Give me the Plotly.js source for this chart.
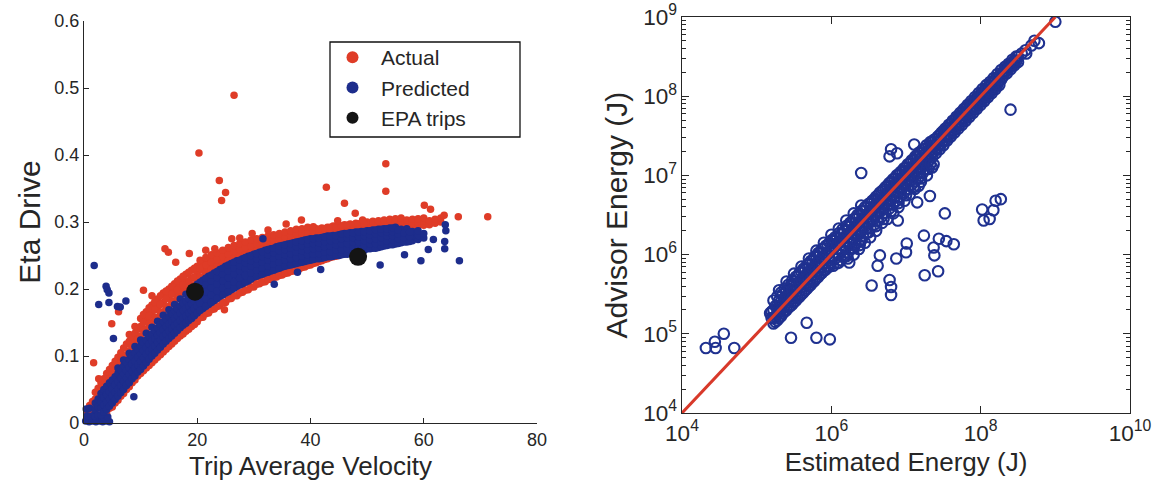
<!DOCTYPE html>
<html><head><meta charset="utf-8">
<script src="https://cdn.plot.ly/plotly-3.0.1.min.js"></script>
<style>html,body{margin:0;padding:0;background:#fff}#chart{width:1155px;height:485px}</style>
</head><body><div id="chart"></div>
<script>
// ---- Left panel: Eta Drive vs Trip Average Velocity ----
const velocityTicks = [0, 20, 40, 60, 80];
const etaTicks = [0, 0.1, 0.2, 0.3, 0.4, 0.5, 0.6];
const legendNames = ["Actual", "Predicted", "EPA trips"];

// Actual (red) points [velocity, eta]
const actualPoints = [
[0.5,0.004],[0.5,0.014],[1,0.006],[1,0.016],[1,0.026],[1.5,0.008],[1.5,0.02],[1.5,0.032],
[2,0.008],[2,0.022],[2,0.036],[2,0.046],[2.5,0.012],[2.5,0.028],[2.5,0.042],[2.5,0.052],
[3,0.01],[3,0.03],[3,0.048],[3,0.06],[3.5,0.016],[3.5,0.036],[3.5,0.054],[3.5,0.066],
[4,0.014],[4,0.04],[4,0.06],[4,0.074],[4.5,0.022],[4.5,0.046],[4.5,0.066],[4.5,0.08],
[5,0.024],[5,0.052],[5,0.072],[5,0.086],[5.5,0.03],[5.5,0.058],[5.5,0.078],[5.5,0.092],
[6,0.034],[6,0.064],[6,0.084],[6,0.098],[6.5,0.04],[6.5,0.07],[6.5,0.09],[6.5,0.105],
[7,0.044],[7,0.076],[7,0.096],[7,0.112],[7.5,0.05],[7.5,0.082],[7.5,0.102],[7.5,0.118],
[8,0.054],[8,0.088],[8,0.108],[8,0.122],[8,0.132],[8.5,0.06],[8.5,0.094],[8.5,0.114],[8.5,0.128],
[9,0.064],[9,0.098],[9,0.12],[9,0.134],[9,0.144],[9.5,0.07],[9.5,0.104],[9.5,0.125],[9.5,0.14],
[10,0.074],[10,0.084],[10,0.108],[10,0.13],[10,0.144],[10,0.156],
[11,0.082],[11,0.093],[11,0.118],[11,0.14],[11,0.154],[11,0.166],
[12,0.09],[12,0.102],[12,0.128],[12,0.15],[12,0.163],[12,0.176],
[13,0.098],[13,0.11],[13,0.136],[13,0.158],[13,0.172],[13,0.185],
[14,0.106],[14,0.118],[14,0.145],[14,0.166],[14,0.18],[14,0.194],
[15,0.114],[15,0.126],[15,0.154],[15,0.174],[15,0.188],[15,0.2],
[16,0.122],[16,0.134],[16,0.162],[16,0.182],[16,0.196],[16,0.208],
[17,0.13],[17,0.142],[17,0.17],[17,0.19],[17,0.203],[17,0.215],
[18,0.137],[18,0.149],[18,0.177],[18,0.197],[18,0.21],[18,0.222],
[19,0.144],[19,0.156],[19,0.184],[19,0.204],[19,0.216],[19,0.228],
[20,0.151],[20,0.163],[20,0.191],[20,0.211],[20,0.222],[20,0.234],
[21,0.158],[21,0.17],[21,0.198],[21,0.217],[21,0.228],[21,0.24],
[22,0.164],[22,0.176],[22,0.204],[22,0.222],[22,0.233],[22,0.244],
[23,0.17],[23,0.182],[23,0.21],[23,0.227],[23,0.238],[23,0.248],
[24,0.175],[24,0.187],[24,0.215],[24,0.232],[24,0.242],[24,0.252],
[25,0.18],[25,0.192],[25,0.22],[25,0.236],[25,0.246],[25,0.256],
[26,0.186],[26,0.197],[26,0.225],[26,0.24],[26,0.25],[26,0.259],
[27,0.19],[27,0.202],[27,0.229],[27,0.244],[27,0.254],[27,0.262],
[28,0.195],[28,0.206],[28,0.233],[28,0.247],[28,0.257],[28,0.265],
[29,0.199],[29,0.21],[29,0.237],[29,0.25],[29,0.26],[29,0.268],
[30,0.203],[30,0.214],[30,0.24],[30,0.253],[30,0.262],[30,0.27],
[31,0.208],[31,0.218],[31,0.243],[31,0.256],[31,0.265],[31,0.272],
[32,0.211],[32,0.221],[32,0.246],[32,0.258],[32,0.267],[32,0.274],
[33,0.214],[33,0.224],[33,0.249],[33,0.26],[33,0.269],[33,0.276],
[34,0.218],[34,0.227],[34,0.252],[34,0.262],[34,0.271],[34,0.278],
[35,0.221],[35,0.23],[35,0.254],[35,0.264],[35,0.273],[35,0.28],
[36,0.224],[36,0.233],[36,0.256],[36,0.266],[36,0.275],[36,0.282],
[37,0.227],[37,0.236],[37,0.258],[37,0.268],[37,0.277],[37,0.284],
[38,0.23],[38,0.239],[38,0.26],[38,0.27],[38,0.279],[38,0.286],
[39,0.233],[39,0.242],[39,0.262],[39,0.272],[39,0.281],[39,0.288],
[40,0.236],[40,0.245],[40,0.264],[40,0.274],[40,0.283],[40,0.289],
[41,0.239],[41,0.248],[41,0.266],[41,0.276],[41,0.284],[41,0.29],
[42,0.242],[42,0.25],[42,0.268],[42,0.278],[42,0.286],[42,0.291],
[43,0.245],[43,0.253],[43,0.27],[43,0.279],[43,0.287],[43,0.292],
[44,0.248],[44,0.255],[44,0.272],[44,0.281],[44,0.288],[44,0.294],
[45,0.25],[45,0.258],[45,0.273],[45,0.282],[45,0.289],[45,0.295],
[46,0.253],[46,0.26],[46,0.275],[46,0.284],[46,0.291],[46,0.296],
[47,0.255],[47,0.262],[47,0.277],[47,0.285],[47,0.292],[47,0.297],
[48,0.257],[48,0.264],[48,0.278],[48,0.286],[48,0.293],[48,0.298],
[49,0.259],[49,0.266],[49,0.28],[49,0.288],[49,0.294],[49,0.299],
[50,0.262],[50,0.268],[50,0.282],[50,0.289],[50,0.295],[50,0.3],
[51,0.264],[51,0.284],[51,0.291],[51,0.297],[51,0.301],
[52,0.266],[52,0.286],[52,0.292],[52,0.298],[52,0.302],
[53,0.268],[53,0.287],[53,0.293],[53,0.299],[53,0.303],
[54,0.27],[54,0.289],[54,0.295],[54,0.3],[54,0.304],
[55,0.272],[55,0.29],[55,0.296],[55,0.301],[55,0.305],
[56,0.274],[56,0.291],[56,0.297],[56,0.302],[56,0.306],
[57,0.276],[57,0.292],[57,0.298],[57,0.303],[58,0.278],[58,0.293],[58,0.299],[58,0.304],
[59,0.294],[59,0.3],[59,0.305],[60,0.295],[60,0.301],[60,0.306],
[61,0.296],[61,0.302],[62,0.298],[62,0.304],[63,0.3],[63,0.306],
[10.5,0.078],[10.5,0.12],[10.5,0.138],[10.5,0.15],[10.5,0.162],
[11.5,0.086],[11.5,0.13],[11.5,0.148],[11.5,0.16],[11.5,0.172],
[12.5,0.094],[12.5,0.14],[12.5,0.157],[12.5,0.169],[12.5,0.181],
[13.5,0.102],[13.5,0.148],[13.5,0.165],[13.5,0.177],[13.5,0.19],
[14.5,0.11],[14.5,0.157],[14.5,0.173],[14.5,0.185],[14.5,0.197],
[15.5,0.118],[15.5,0.165],[15.5,0.18],[15.5,0.192],[15.5,0.204],
[16.5,0.126],[16.5,0.173],[16.5,0.187],[16.5,0.199],[16.5,0.212],
[17.5,0.133],[17.5,0.18],[17.5,0.194],[17.5,0.206],[17.5,0.219],
[18.5,0.14],[18.5,0.187],[18.5,0.2],[18.5,0.212],[18.5,0.225],
[19.5,0.147],[19.5,0.194],[19.5,0.206],[19.5,0.218],[19.5,0.231],
[20.5,0.157],[20.5,0.205],[20.5,0.218],[20.5,0.231],[20.5,0.243],
[21.5,0.163],[21.5,0.211],[21.5,0.224],[21.5,0.236],[21.5,0.247],
[22.5,0.169],[22.5,0.217],[22.5,0.229],[22.5,0.24],[22.5,0.251],
[23.5,0.174],[23.5,0.222],[23.5,0.234],[23.5,0.244],[23.5,0.254],
[24.5,0.18],[24.5,0.227],[24.5,0.238],[24.5,0.248],[24.5,0.258],
[25.5,0.185],[25.5,0.231],[25.5,0.242],[25.5,0.252],[25.5,0.262],
[26.5,0.19],[26.5,0.235],[26.5,0.246],[26.5,0.256],[26.5,0.265],
[27.5,0.194],[27.5,0.239],[27.5,0.249],[27.5,0.259],[27.5,0.268],
[28.5,0.198],[28.5,0.243],[28.5,0.252],[28.5,0.262],[28.5,0.27],
[29.5,0.203],[29.5,0.246],[29.5,0.255],[29.5,0.264],[29.5,0.273],
[30.5,0.207],[30.5,0.249],[30.5,0.258],[30.5,0.267],[30.5,0.275],
[31.5,0.21],[31.5,0.252],[31.5,0.261],[31.5,0.27],[31.5,0.277],
[32.5,0.214],[32.5,0.255],[32.5,0.264],[32.5,0.272],[32.5,0.279],
[33.5,0.217],[33.5,0.258],[33.5,0.266],[33.5,0.274],[33.5,0.281],
[34.5,0.22],[34.5,0.26],[34.5,0.268],[34.5,0.276],[34.5,0.283],
[35.5,0.223],[35.5,0.262],[35.5,0.27],[35.5,0.278],[35.5,0.285],
[36.5,0.226],[36.5,0.264],[36.5,0.272],[36.5,0.28],[36.5,0.287],
[37.5,0.229],[37.5,0.266],[37.5,0.274],[37.5,0.282],[37.5,0.289],
[38.5,0.232],[38.5,0.268],[38.5,0.276],[38.5,0.284],[38.5,0.29],
[39.5,0.235],[39.5,0.27],[39.5,0.278],[39.5,0.286],[39.5,0.292],
[40.5,0.238],[40.5,0.272],[40.5,0.28],[40.5,0.287],[40.5,0.293],
[41.5,0.241],[41.5,0.274],[41.5,0.282],[41.5,0.289],[42.5,0.244],[42.5,0.276],[42.5,0.283],[42.5,0.29],
[43.5,0.247],[43.5,0.278],[43.5,0.285],[43.5,0.292],[44.5,0.249],[44.5,0.279],[44.5,0.286],[44.5,0.293],
[45.5,0.252],[45.5,0.281],[45.5,0.288],[45.5,0.294],[46.5,0.254],[46.5,0.282],[46.5,0.289],[46.5,0.295],
[47.5,0.256],[47.5,0.284],[47.5,0.29],[47.5,0.296],[48.5,0.258],[48.5,0.285],[48.5,0.292],[48.5,0.297],
[49.5,0.26],[49.5,0.287],[49.5,0.293],[49.5,0.298],
[26.5,0.489],[20.3,0.403],[23.9,0.362],[25.0,0.344],[24.3,0.332],[53.3,0.387],[53.3,0.346],
[42.8,0.352],[46.0,0.328],[47.9,0.313],[60.1,0.325],[61.2,0.319],[71.3,0.308],[66.1,0.308],
[63.6,0.31],[38.4,0.303],[35.7,0.297],[49.2,0.303],[44.8,0.302],[32.5,0.288],[29.7,0.283],
[26.1,0.275],[23.1,0.26],[18.6,0.253],[14.9,0.255],[14.3,0.26],[16.2,0.24],[10.5,0.198],
[4.9,0.148],[1.7,0.09],[2.6,0.066],[6.1,0.166],[24.8,0.169],[12,0.19],[21.5,0.258],[27.5,0.276]
];

// Predicted (blue) points [velocity, eta]
const predictedPoints = [
[0.3,0.003],[0.9,0.002],[1.5,0.003],[2.1,0.002],[2.7,0.003],[3.3,0.002],[3.9,0.003],[4.5,0.002],
[0.6,0.011],[1.2,0.01],[1.8,0.012],[2.4,0.009],[3.0,0.01],[3.6,0.008],[4.2,0.009],[0.4,0.021],[1.0,0.022],
[2,0.01],[2,0.02],[2,0.03],[2.5,0.012],[2.5,0.024],[2.5,0.036],
[3,0.012],[3,0.022],[3,0.032],[3,0.044],[3.5,0.016],[3.5,0.027],[3.5,0.038],[3.5,0.05],
[4,0.02],[4,0.031],[4,0.042],[4,0.055],[4.5,0.025],[4.5,0.036],[4.5,0.047],[4.5,0.06],
[5,0.03],[5,0.041],[5,0.052],[5,0.064],[5.5,0.035],[5.5,0.046],[5.5,0.057],[5.5,0.069],
[6,0.04],[6,0.051],[6,0.062],[6,0.074],[6,0.082],[6.5,0.045],[6.5,0.056],[6.5,0.067],[6.5,0.079],
[7,0.05],[7,0.062],[7,0.073],[7,0.085],[7,0.094],[7.5,0.056],[7.5,0.067],[7.5,0.078],[7.5,0.09],
[8,0.06],[8,0.072],[8,0.083],[8,0.095],[8,0.104],[8.5,0.066],[8.5,0.077],[8.5,0.088],[8.5,0.1],
[9,0.07],[9,0.082],[9,0.093],[9,0.105],[9,0.114],[9.5,0.076],[9.5,0.087],[9.5,0.098],[9.5,0.11],
[10,0.08],[10,0.092],[10,0.103],[10,0.115],[10,0.124],[10.5,0.085],[10.5,0.097],[10.5,0.108],[10.5,0.12],
[11,0.09],[11,0.102],[11,0.113],[11,0.124],[11,0.134],[11.5,0.095],[11.5,0.107],[11.5,0.118],[11.5,0.129],
[12,0.1],[12,0.111],[12,0.122],[12,0.133],[12,0.143],[12.5,0.104],[12.5,0.115],[12.5,0.126],[12.5,0.138],
[13,0.109],[13,0.12],[13,0.131],[13,0.142],[13,0.152],[13.5,0.113],[13.5,0.124],[13.5,0.135],[13.5,0.147],
[14,0.118],[14,0.129],[14,0.14],[14,0.151],[14,0.161],[14.5,0.122],[14.5,0.133],[14.5,0.144],[14.5,0.155],
[15,0.126],[15,0.137],[15,0.148],[15,0.159],[15,0.169],[15.5,0.13],[15.5,0.141],[15.5,0.152],[15.5,0.163],
[16,0.134],[16,0.145],[16,0.156],[16,0.167],[16,0.177],[16.5,0.138],[16.5,0.149],[16.5,0.16],[16.5,0.171],
[17,0.142],[17,0.153],[17,0.164],[17,0.175],[17,0.185],[17.5,0.146],[17.5,0.157],[17.5,0.168],[17.5,0.179],
[18,0.149],[18,0.16],[18,0.171],[18,0.182],[18,0.192],[18.5,0.153],[18.5,0.164],[18.5,0.175],[18.5,0.186],
[19,0.156],[19,0.167],[19,0.178],[19,0.189],[19,0.199],[19.5,0.16],[19.5,0.171],[19.5,0.182],[19.5,0.193],
[20,0.164],[20,0.175],[20,0.186],[20,0.197],[20,0.207],
[21,0.171],[21,0.182],[21,0.193],[21,0.204],[21,0.213],
[22,0.177],[22,0.188],[22,0.199],[22,0.21],[22,0.219],
[23,0.183],[23,0.194],[23,0.205],[23,0.215],[23,0.224],
[24,0.189],[24,0.199],[24,0.21],[24,0.22],[24,0.229],
[25,0.194],[25,0.204],[25,0.215],[25,0.225],[25,0.234],
[26,0.199],[26,0.209],[26,0.22],[26,0.229],[26,0.238],
[27,0.204],[27,0.214],[27,0.225],[27,0.233],[27,0.242],
[28,0.208],[28,0.218],[28,0.229],[28,0.237],[28,0.245],
[29,0.212],[29,0.222],[29,0.233],[29,0.241],[29,0.249],
[30,0.218],[30,0.227],[30,0.236],[30,0.244],[30,0.252],
[31,0.221],[31,0.23],[31,0.239],[31,0.247],[31,0.255],
[32,0.224],[32,0.233],[32,0.242],[32,0.25],[32,0.258],
[33,0.227],[33,0.236],[33,0.245],[33,0.253],[33,0.26],
[34,0.23],[34,0.239],[34,0.248],[34,0.256],[34,0.263],
[35,0.233],[35,0.242],[35,0.25],[35,0.258],[35,0.265],
[36,0.235],[36,0.244],[36,0.252],[36,0.26],[36,0.267],
[37,0.237],[37,0.246],[37,0.254],[37,0.262],[37,0.269],
[38,0.239],[38,0.248],[38,0.256],[38,0.264],[38,0.271],
[39,0.241],[39,0.25],[39,0.258],[39,0.266],[39,0.273],
[40,0.243],[40,0.252],[40,0.26],[40,0.268],[40,0.275],
[41,0.245],[41,0.253],[41,0.261],[41,0.269],[41,0.276],
[42,0.246],[42,0.254],[42,0.262],[42,0.27],[42,0.277],
[43,0.248],[43,0.256],[43,0.264],[43,0.272],[43,0.279],
[44,0.249],[44,0.257],[44,0.265],[44,0.273],[44,0.28],
[45,0.25],[45,0.258],[45,0.266],[45,0.274],[45,0.281],
[46,0.252],[46,0.26],[46,0.268],[46,0.276],[46,0.283],
[47,0.253],[47,0.261],[47,0.269],[47,0.277],[47,0.284],
[48,0.254],[48,0.262],[48,0.27],[48,0.278],[48,0.285],
[49,0.256],[49,0.264],[49,0.271],[49,0.279],[49,0.286],
[50,0.26],[50,0.267],[50,0.274],[50,0.281],[50,0.287],
[51,0.261],[51,0.268],[51,0.275],[51,0.282],[51,0.288],
[52,0.262],[52,0.269],[52,0.276],[52,0.283],[52,0.289],
[53,0.264],[53,0.271],[53,0.278],[53,0.285],[53,0.29],
[54,0.266],[54,0.273],[54,0.28],[54,0.286],[54,0.291],
[55,0.267],[55,0.274],[55,0.281],[55,0.287],[55,0.292],
[56,0.269],[56,0.276],[56,0.283],[56,0.289],[57,0.27],[57,0.277],[57,0.284],[57,0.29],
[58,0.272],[58,0.279],[58,0.286],[59,0.274],[59,0.28],[59,0.287],[60,0.276],[60,0.283],
[20.5,0.168],[20.5,0.179],[20.5,0.19],[20.5,0.201],[20.5,0.21],
[21.5,0.174],[21.5,0.185],[21.5,0.196],[21.5,0.207],[21.5,0.216],
[22.5,0.18],[22.5,0.191],[22.5,0.202],[22.5,0.212],[22.5,0.221],
[23.5,0.186],[23.5,0.197],[23.5,0.207],[23.5,0.217],[23.5,0.226],
[24.5,0.191],[24.5,0.201],[24.5,0.212],[24.5,0.222],[24.5,0.231],
[25.5,0.196],[25.5,0.206],[25.5,0.217],[25.5,0.227],[25.5,0.236],
[26.5,0.201],[26.5,0.211],[26.5,0.222],[26.5,0.231],[26.5,0.24],
[27.5,0.206],[27.5,0.216],[27.5,0.227],[27.5,0.235],[27.5,0.243],
[28.5,0.21],[28.5,0.22],[28.5,0.231],[28.5,0.239],[28.5,0.247],
[29.5,0.215],[29.5,0.224],[29.5,0.234],[29.5,0.242],[29.5,0.25],
[30.5,0.219],[30.5,0.228],[30.5,0.237],[30.5,0.245],[30.5,0.253],
[31.5,0.222],[31.5,0.231],[31.5,0.24],[31.5,0.248],[31.5,0.256],
[32.5,0.225],[32.5,0.234],[32.5,0.243],[32.5,0.251],[32.5,0.259],
[33.5,0.228],[33.5,0.237],[33.5,0.246],[33.5,0.254],[33.5,0.261],
[34.5,0.231],[34.5,0.24],[34.5,0.249],[34.5,0.257],[34.5,0.264],
[35.5,0.234],[35.5,0.243],[35.5,0.251],[35.5,0.259],[35.5,0.266],
[36.5,0.236],[36.5,0.245],[36.5,0.253],[36.5,0.261],[36.5,0.268],
[37.5,0.238],[37.5,0.247],[37.5,0.255],[37.5,0.263],[37.5,0.27],
[38.5,0.24],[38.5,0.249],[38.5,0.257],[38.5,0.265],[38.5,0.272],
[39.5,0.242],[39.5,0.251],[39.5,0.259],[39.5,0.267],[39.5,0.274],
[40.5,0.244],[40.5,0.252],[40.5,0.26],[40.5,0.268],[40.5,0.275],
[41.5,0.245],[41.5,0.253],[41.5,0.261],[41.5,0.269],[41.5,0.276],
[42.5,0.247],[42.5,0.255],[42.5,0.263],[42.5,0.271],[42.5,0.278],
[43.5,0.248],[43.5,0.256],[43.5,0.264],[43.5,0.272],[43.5,0.279],
[44.5,0.25],[44.5,0.258],[44.5,0.266],[44.5,0.273],[44.5,0.28],
[45.5,0.251],[45.5,0.259],[45.5,0.267],[45.5,0.275],[45.5,0.282],
[46.5,0.252],[46.5,0.26],[46.5,0.268],[46.5,0.276],[46.5,0.283],
[47.5,0.254],[47.5,0.262],[47.5,0.27],[47.5,0.277],[47.5,0.284],
[48.5,0.255],[48.5,0.263],[48.5,0.271],[48.5,0.278],[48.5,0.285],
[49.5,0.258],[49.5,0.265],[49.5,0.272],[49.5,0.28],[49.5,0.286],
[50.5,0.26],[50.5,0.267],[50.5,0.274],[50.5,0.281],[50.5,0.287],
[51.5,0.261],[51.5,0.268],[51.5,0.275],[51.5,0.282],[51.5,0.288],
[52.5,0.263],[52.5,0.27],[52.5,0.277],[52.5,0.284],[52.5,0.289],
[53.5,0.265],[53.5,0.272],[53.5,0.279],[53.5,0.285],[53.5,0.29],
[54.5,0.266],[54.5,0.273],[54.5,0.28],[54.5,0.286],[54.5,0.291],
[55.5,0.268],[55.5,0.275],[55.5,0.282],[55.5,0.288],
[56.5,0.27],[56.5,0.277],[56.5,0.284],[57.5,0.271],[57.5,0.278],[57.5,0.285],
[1.8,0.235],[3.9,0.204],[4.1,0.199],[4.4,0.194],[4.4,0.18],[2.6,0.177],[5.9,0.174],[6.4,0.173],
[7.4,0.182],[5.2,0.126],[8.8,0.039],[31.6,0.275],[33.6,0.207],[41.8,0.229],[37.7,0.225],
[52.3,0.236],[56.6,0.251],[59.5,0.242],[66.3,0.242],[63.8,0.296],[63.9,0.287],[63.7,0.271],
[63.7,0.26],[61.7,0.274],[60.8,0.259]
];

// EPA trips (black)
const epaVelocity = [19.6, 48.4];
const epaEta = [0.196, 0.248];

// ---- Right panel: Advisor vs Estimated energy (log10 of joules) ----
const energyLogPairs = [
[5.20,5.28],[5.20,5.20],[5.25,5.35],[5.25,5.22],[5.25,5.15],[5.30,5.42],[5.30,5.30],[5.30,5.20],
[5.35,5.50],[5.35,5.38],[5.35,5.26],[5.40,5.55],[5.40,5.43],[5.40,5.30],[5.45,5.60],[5.45,5.48],[5.45,5.35],
[5.50,5.66],[5.50,5.54],[5.50,5.40],[5.55,5.72],[5.55,5.58],[5.55,5.45],[5.60,5.78],[5.60,5.64],[5.60,5.50],
[5.65,5.82],[5.65,5.70],[5.65,5.55],[5.70,5.88],[5.70,5.75],[5.70,5.60],[5.75,5.92],[5.75,5.80],[5.75,5.65],
[5.80,5.98],[5.80,5.85],[5.80,5.70],[5.85,6.02],[5.85,5.90],[5.85,5.75],[5.90,6.08],[5.90,5.95],[5.90,5.80],
[5.95,6.12],[5.95,6.00],[5.95,5.85],[6.00,6.18],[6.00,6.05],[6.00,5.90],[6.05,6.22],[6.05,6.10],[6.05,5.95],
[6.10,6.27],[6.10,6.15],[6.10,6.00],[6.10,5.90],[6.15,6.32],[6.15,6.20],[6.15,6.05],
[6.20,6.36],[6.20,6.24],[6.20,6.10],[6.20,5.98],[6.25,6.40],[6.25,6.28],[6.25,6.15],
[6.30,6.45],[6.30,6.33],[6.30,6.20],[6.30,6.08],[6.35,6.50],[6.35,6.38],[6.35,6.25],
[6.40,6.55],[6.40,6.43],[6.40,6.30],[6.40,6.18],[6.45,6.60],[6.45,6.48],[6.45,6.35],
[6.50,6.64],[6.50,6.52],[6.50,6.40],[6.50,6.28],[6.55,6.68],[6.55,6.56],[6.55,6.45],
[6.60,6.73],[6.60,6.61],[6.60,6.50],[6.60,6.36],[6.65,6.78],[6.65,6.66],[6.65,6.55],
[6.70,6.82],[6.70,6.70],[6.70,6.58],[6.70,6.45],[6.75,6.87],[6.75,6.75],[6.75,6.63],
[6.80,6.92],[6.80,6.80],[6.80,6.68],[6.80,6.55],[6.85,6.96],[6.85,6.85],[6.85,6.73],
[6.90,7.01],[6.90,6.90],[6.90,6.78],[6.90,6.65],[6.95,7.06],[6.95,6.95],[6.95,6.83],
[7.00,7.10],[7.00,7.00],[7.00,6.88],[7.00,6.75],[7.05,7.15],[7.05,7.05],[7.05,6.93],
[7.10,7.19],[7.10,7.09],[7.10,6.98],[7.10,6.85],[7.15,7.24],[7.15,7.14],[7.15,7.03],
[7.20,7.28],[7.20,7.18],[7.20,7.08],[7.20,6.96],[7.25,7.33],[7.25,7.23],[7.25,7.13],
[7.30,7.37],[7.30,7.28],[7.30,7.18],[7.30,7.08],[7.35,7.42],[7.35,7.33],[7.35,7.23],
[7.40,7.46],[7.40,7.38],[7.40,7.28],[7.45,7.51],[7.45,7.43],[7.45,7.33],[7.50,7.56],[7.50,7.48],[7.50,7.38],
[7.55,7.60],[7.55,7.52],[7.55,7.44],[7.60,7.65],[7.60,7.57],[7.60,7.49],[7.65,7.70],[7.65,7.62],[7.65,7.54],
[7.70,7.74],[7.70,7.67],[7.70,7.59],[7.75,7.79],[7.75,7.72],[7.75,7.64],[7.80,7.84],[7.80,7.77],[7.80,7.69],
[7.85,7.89],[7.85,7.82],[7.85,7.74],[7.90,7.93],[7.90,7.86],[7.90,7.79],[7.95,7.98],[7.95,7.91],[7.95,7.84],
[8.00,8.03],[8.00,7.96],[8.00,7.89],[8.05,8.08],[8.05,8.01],[8.05,7.94],[8.10,8.12],[8.10,8.06],[8.10,7.99],
[8.15,8.17],[8.15,8.10],[8.15,8.04],[8.20,8.22],[8.20,8.15],[8.20,8.09],[8.25,8.26],[8.25,8.20],[8.25,8.14],
[8.30,8.31],[8.30,8.25],[8.35,8.36],[8.35,8.29],[8.40,8.41],[8.40,8.34],[8.45,8.45],[8.45,8.39],
[8.50,8.50],[8.50,8.43],[8.55,8.54],[8.60,8.58],[8.68,8.64],[8.72,8.70],
[5.225,5.42],[5.225,5.30],[5.225,5.20],[5.225,5.13],[5.275,5.47],[5.275,5.35],[5.275,5.25],[5.275,5.17],
[5.325,5.52],[5.325,5.41],[5.325,5.30],[5.325,5.22],[5.375,5.57],[5.375,5.46],[5.375,5.35],[5.375,5.28],
[5.425,5.62],[5.425,5.51],[5.425,5.40],[5.425,5.33],[5.475,5.67],[5.475,5.56],[5.475,5.45],[5.475,5.37],
[5.525,5.72],[5.525,5.61],[5.525,5.50],[5.525,5.42],[5.575,5.77],[5.575,5.66],[5.575,5.55],[5.575,5.47],
[5.625,5.82],[5.625,5.71],[5.625,5.60],[5.625,5.52],[5.675,5.87],[5.675,5.76],[5.675,5.65],[5.675,5.57],
[5.725,5.92],[5.725,5.81],[5.725,5.70],[5.725,5.62],[5.775,5.97],[5.775,5.86],[5.775,5.75],[5.775,5.67],
[5.825,6.02],[5.825,5.91],[5.825,5.80],[5.825,5.72],[5.875,6.07],[5.875,5.96],[5.875,5.85],[5.875,5.77],
[5.925,6.11],[5.925,6.00],[5.925,5.90],[5.925,5.81],[5.975,6.15],[5.975,6.05],[5.975,5.95],[5.975,5.85],
[6.025,6.17],[6.025,6.08],[6.025,5.97],[6.025,5.86],[6.075,6.21],[6.075,6.12],[6.075,6.01],[6.075,5.89],
[6.125,6.25],[6.125,6.16],[6.125,6.05],[6.125,5.93],[6.175,6.30],[6.175,6.21],[6.175,6.10],[6.175,5.98],
[6.225,6.35],[6.225,6.26],[6.225,6.15],[6.225,6.03],[6.275,6.40],[6.275,6.31],[6.275,6.20],[6.275,6.08],
[6.325,6.45],[6.325,6.36],[6.325,6.25],[6.325,6.13],[6.375,6.50],[6.375,6.41],[6.375,6.30],[6.375,6.18],
[6.425,6.55],[6.425,6.46],[6.425,6.35],[6.425,6.23],[6.475,6.60],[6.475,6.51],[6.475,6.40],[6.475,6.28],
[6.525,6.65],[6.525,6.56],[6.525,6.45],[6.525,6.33],[6.575,6.70],[6.575,6.61],[6.575,6.50],[6.575,6.38],
[6.625,6.75],[6.625,6.66],[6.625,6.55],[6.625,6.43],[6.675,6.80],[6.675,6.71],[6.675,6.60],[6.675,6.48],
[6.725,6.85],[6.725,6.76],[6.725,6.65],[6.725,6.53],[6.775,6.90],[6.775,6.81],[6.775,6.70],[6.775,6.58],
[6.825,6.95],[6.825,6.86],[6.825,6.75],[6.825,6.63],[6.875,7.00],[6.875,6.91],[6.875,6.80],[6.875,6.68],
[6.925,7.04],[6.925,6.95],[6.925,6.85],[6.925,6.73],[6.975,7.09],[6.975,7.00],[6.975,6.90],[6.975,6.78],
[7.025,7.14],[7.025,7.05],[7.025,6.95],[7.025,6.83],[7.075,7.19],[7.075,7.10],[7.075,7.00],[7.075,6.88],
[7.125,7.24],[7.125,7.15],[7.125,7.05],[7.125,6.93],[7.175,7.29],[7.175,7.20],[7.175,7.10],[7.175,6.98],
[7.225,7.33],[7.225,7.25],[7.225,7.15],[7.225,7.03],[7.275,7.38],[7.275,7.30],[7.275,7.20],[7.275,7.08],
[7.325,7.42],[7.325,7.35],[7.325,7.25],[7.325,7.14],[7.375,7.45],[7.375,7.38],[7.375,7.30],
[7.425,7.49],[7.425,7.42],[7.425,7.35],[7.475,7.54],[7.475,7.47],[7.475,7.40],
[7.525,7.59],[7.525,7.52],[7.525,7.45],[7.575,7.64],[7.575,7.57],[7.575,7.50],
[7.625,7.69],[7.625,7.62],[7.625,7.55],[7.675,7.74],[7.675,7.67],[7.675,7.60],
[7.725,7.79],[7.725,7.72],[7.725,7.65],[7.775,7.84],[7.775,7.77],[7.775,7.70],
[7.825,7.89],[7.825,7.82],[7.825,7.75],[7.875,7.94],[7.875,7.87],[7.875,7.80],
[7.925,7.99],[7.925,7.92],[7.925,7.85],[7.975,8.04],[7.975,7.97],[7.975,7.90],
[8.025,8.09],[8.025,8.02],[8.025,7.95],[8.075,8.14],[8.075,8.07],[8.075,8.00],
[8.125,8.18],[8.125,8.12],[8.125,8.05],[8.175,8.23],[8.175,8.17],[8.175,8.10],
[8.225,8.28],[8.225,8.22],[8.225,8.15],[8.275,8.33],[8.275,8.27],[8.275,8.21],
[8.325,8.37],[8.325,8.30],[8.375,8.41],[8.375,8.35],[8.425,8.46],[8.425,8.40],[8.475,8.50],[8.475,8.44],
[5.30,5.55],[5.40,5.66],[5.50,5.76],[5.60,5.85],[5.70,5.95],[5.80,6.05],[5.90,6.15],[6.00,6.25],
[6.10,6.33],[6.20,6.43],[6.30,6.52],[6.40,6.62],
[6.22,5.95],[6.30,6.00],[6.38,6.12],[6.45,6.15],[6.52,6.22],[6.60,6.30],[6.68,6.40],[6.75,6.45],
[6.83,6.52],[6.90,6.60],[6.98,6.68],[7.05,6.76],[7.12,6.83],[7.20,6.92],[7.28,7.00],[7.35,7.10],
[4.32,4.82],[4.44,4.90],[4.45,4.82],[4.56,5.00],[4.70,4.82],[5.18,5.26],[5.46,4.95],[5.67,5.14],
[5.80,4.95],[5.98,4.93],[6.54,5.61],[6.65,5.99],[6.62,5.86],[6.78,5.68],[6.80,5.59],[6.80,5.49],
[6.87,5.95],[7.00,6.03],[7.01,6.14],[7.24,6.24],[7.25,5.74],[7.37,6.09],[7.38,5.99],[7.43,5.79],
[7.44,6.20],[7.54,6.17],[7.64,6.13],[7.52,6.52],[7.15,6.66],[7.32,6.74],[7.17,6.87],[8.02,6.57],
[8.04,6.43],[8.12,6.45],[8.17,6.56],[8.20,6.68],[8.27,6.70],[8.40,7.83],[8.78,8.67],[9.00,8.94],
[8.61,8.54],[6.40,7.03],[6.80,7.33],[6.78,7.24],[6.88,7.28],[7.11,7.39],[7.37,7.14],[6.24,5.90],
[6.37,6.07],[6.16,5.97],[6.89,6.43]
];
const refLineEnergy = [1e4, 1e9];

const ink = '#262626';
const font = 'Liberation Sans, Arial, Helvetica, sans-serif';

const traces = [
  {x: actualPoints.map(p => p[0]), y: actualPoints.map(p => p[1]), type: 'scatter', mode: 'markers',
   name: legendNames[0], cliponaxis: false, marker: {color: '#df3c27', size: 7.5}, xaxis: 'x', yaxis: 'y'},
  {x: predictedPoints.map(p => p[0]), y: predictedPoints.map(p => p[1]), type: 'scatter', mode: 'markers',
   name: legendNames[1], cliponaxis: false, marker: {color: '#1d2d8c', size: 7.5}, xaxis: 'x', yaxis: 'y'},
  {x: epaVelocity, y: epaEta, type: 'scatter', mode: 'markers', name: legendNames[2],
   marker: {color: '#141414', size: 18}, xaxis: 'x', yaxis: 'y'},
  {x: energyLogPairs.map(p => Math.pow(10, p[0])), y: energyLogPairs.map(p => Math.pow(10, p[1])),
   type: 'scatter', mode: 'markers', showlegend: false,
   marker: {symbol: 'circle-open', color: '#1f3190', size: 10.5, line: {width: 2.1, color: '#1f3190'}},
   xaxis: 'x2', yaxis: 'y2'},
  {x: refLineEnergy, y: refLineEnergy, type: 'scatter', mode: 'lines', showlegend: false,
   line: {color: '#d8392a', width: 3}, xaxis: 'x2', yaxis: 'y2'}
];

const tickFont = {family: font, size: 18, color: ink};
const titleFont = {family: font, size: 26, color: ink};
const vTitleFont = {family: font, size: 30, color: ink};

const layout = {
  width: 1155, height: 485,
  margin: {l: 0, r: 0, t: 0, b: 0},
  paper_bgcolor: '#fff', plot_bgcolor: '#fff',
  font: {family: font, color: ink},
  showlegend: true,
  legend: {x: 324/1155, y: 1 - 37/485, xanchor: 'left', yanchor: 'top',
           borderwidth: 0, bgcolor: 'rgba(0,0,0,0)', itemwidth: 47,
           font: {family: font, size: 21, color: ink}, itemsizing: 'constant'},
  shapes: [{type: 'rect', xref: 'paper', yref: 'paper', layer: 'above',
            x0: 330/1155, x1: 520/1155, y0: 1 - 137/485, y1: 1 - 42/485,
            line: {color: '#111', width: 1.3}, fillcolor: '#fff'}],
  xaxis: {domain: [84/1155, 537/1155], range: [0, 80], tickvals: velocityTicks,
          ticks: 'inside', ticklen: 5, tickcolor: ink, showline: true, linecolor: ink, linewidth: 1.2,
          showgrid: false, zeroline: false, tickfont: tickFont,
          title: {text: 'Trip Average Velocity', font: titleFont, standoff: 8}},
  yaxis: {domain: [1 - 423/485, 1 - 21/485], range: [0, 0.6], tickvals: etaTicks,
          ticks: 'inside', ticklen: 5, tickcolor: ink, showline: true, linecolor: ink, linewidth: 1.2,
          showgrid: false, zeroline: false, tickfont: tickFont,
          title: {text: 'Eta Drive', font: vTitleFont, standoff: 4}},
  xaxis2: {domain: [682/1155, 1130/1155], type: 'log', range: [4, 10], dtick: 2,
           exponentformat: 'power', showexponent: 'all',
           ticks: 'inside', ticklen: 7, tickcolor: ink, showline: true, mirror: 'ticks',
           linecolor: ink, linewidth: 1.4, showgrid: false, zeroline: false, tickfont: tickFont,
           title: {text: 'Estimated Energy (J)', font: titleFont, standoff: 8}, anchor: 'y2'},
  yaxis2: {domain: [1 - 413/485, 1 - 17/485], type: 'log', range: [4, 9], dtick: 1,
           exponentformat: 'power', showexponent: 'all',
           ticks: 'inside', ticklen: 7, tickcolor: ink, showline: true, mirror: 'ticks',
           linecolor: ink, linewidth: 1.4, showgrid: false, zeroline: false, tickfont: tickFont,
           minor: {dtick: 'D1', ticks: 'inside', ticklen: 4, tickcolor: ink, tickwidth: 1, showgrid: false},
           title: {text: 'Advisor Energy (J)', font: vTitleFont, standoff: 6}, anchor: 'x2'}
};

Plotly.newPlot('chart', traces, layout, {staticPlot: true, displayModeBar: false});
</script>
</body></html>
